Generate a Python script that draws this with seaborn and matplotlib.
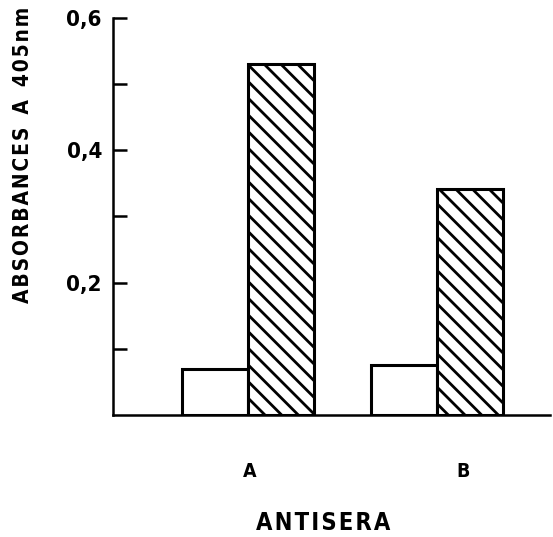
import matplotlib
matplotlib.use("Agg")
import matplotlib.pyplot as plt
import seaborn as sns
import pandas as pd

antisera = ["A", "B"]
conditions = ["control", "test"]
control_values = [0.069, 0.075]
test_values = [0.531, 0.341]
ytick_values = [0.1, 0.2, 0.3, 0.4, 0.5, 0.6]
ytick_labels = ["", "0,2", "", "0,4", "", "0,6"]

sns.set_theme(style="white")
plt.rcParams["font.family"] = ["DejaVu Sans"]
plt.rcParams["font.stretch"] = "condensed"
plt.rcParams["font.weight"] = "bold"
plt.rcParams["hatch.linewidth"] = 2.0
plt.rcParams["hatch.color"] = "black"
plt.rcParams["text.color"] = "black"
plt.rcParams["axes.labelcolor"] = "black"

df = pd.DataFrame({
    "antisera": antisera * 2,
    "condition": [conditions[0]] * 2 + [conditions[1]] * 2,
    "absorbance": control_values + test_values,
})

fig = plt.figure(figsize=(5.53, 5.37), dpi=100)
ax = fig.add_axes([113 / 553, 1 - 415 / 537, 437 / 553, 397 / 537])

sns.barplot(data=df, x="antisera", y="absorbance", hue="condition",
            order=antisera, hue_order=conditions,
            palette=["white", "white"], edgecolor="black", linewidth=2.2,
            width=0.7, gap=0, legend=False, ax=ax)

for patch, cond in zip(ax.patches, [c for c in conditions for _ in antisera]):
    patch.set_edgecolor("black")
    patch.set_facecolor("white")
    if cond == "test":
        patch.set_hatch("\\\\")

ax.set_ylim(0, 0.6)
ax.set_xlim(-0.714, 1.6)
ax.set_yticks(ytick_values)
ax.set_yticklabels(ytick_labels, fontsize=16, fontweight="bold", fontstretch="condensed")
ax.set_xticks([0.01, 1.14])
ax.set_xticklabels(antisera, fontsize=14, fontweight="bold", fontstretch="condensed")
ax.tick_params(axis="y", left=True, direction="in", length=10, width=1.8, pad=8,
               colors="black", labelcolor="black")
ax.tick_params(axis="x", bottom=False, length=0, pad=34, labelcolor="black")

for s in ["top", "right"]:
    ax.spines[s].set_visible(False)
for s in ["left", "bottom"]:
    ax.spines[s].set_color("black")
    ax.spines[s].set_linewidth(1.8)

hair = "\u200a"
ax.set_xlabel(hair.join("ANTISERA"), fontsize=17, fontweight="bold",
              fontstretch="condensed", color="black")
ax.set_ylabel(hair.join("ABSORBANCES") + "  A  " + hair.join("405nm"), fontsize=15,
              fontweight="bold", fontstretch="condensed", color="black")
ax.yaxis.set_label_coords(-0.182, 0.655)
ax.xaxis.set_label_coords(0.48, -0.243)

fig.savefig("out.png", dpi=100)
